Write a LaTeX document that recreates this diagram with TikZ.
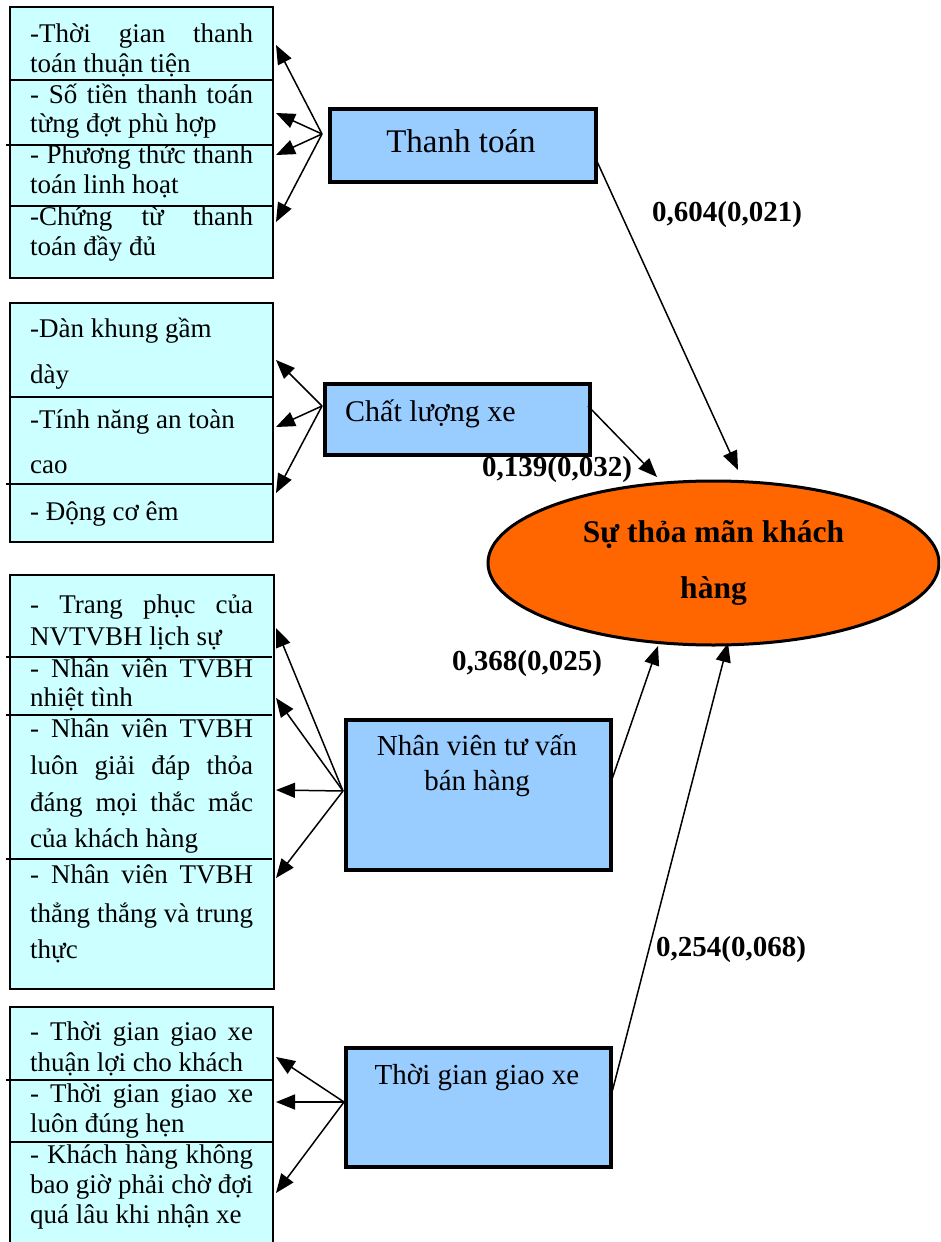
\documentclass[tikz,border=0pt]{standalone}
\usepackage{fontspec}
\setmainfont{Liberation Serif}
\usetikzlibrary{shapes.geometric,arrows.meta}
\definecolor{itemfill}{HTML}{CCFFFF}
\definecolor{factorfill}{HTML}{99CCFF}
\definecolor{targetfill}{HTML}{FF6600}
% a justified line of an item list: spaces stretch to the full column width
\newcommand\fullline[1]{\makebox[223pt][s]{#1}}

\begin{document}
\begin{tikzpicture}[x=1pt,y=-1pt,
  itembox/.style={draw=black, line width=2pt, fill=itemfill, rectangle,
    anchor=north west, inner sep=0pt},
  factor/.style={draw=black, line width=3.5pt, fill=factorfill, rectangle,
    anchor=north west, inner sep=0pt},
  itemtxt/.style={anchor=base west, inner sep=0pt, font=\fontsize{27}{31}\selectfont},
  factortxt/.style={inner sep=0pt, align=center, font=\fontsize{29}{35}\selectfont},
  coef/.style={inner sep=0pt, font=\bfseries\fontsize{29}{32}\selectfont},
  divider/.style={line width=1.5pt},
  fan/.style={line width=1.5pt, -{Triangle[length=19pt,width=15pt]}},
  effect/.style={line width=1.5pt, -{Triangle[length=19pt,width=15pt]}}]

\useasboundingbox (0,0) rectangle (940,1242);
\fill[white] (0,0) rectangle (940,1242);
\clip (0,0) rectangle (940,1242);

% ---------- item boxes ----------
\node[itembox, minimum width=263pt, minimum height=271pt] (items1) at (9,6) {};
\node[itembox, minimum width=263pt, minimum height=239pt] (items2) at (9,302) {};
\node[itembox, minimum width=264pt, minimum height=414pt] (items3) at (9,574) {};
\node[itembox, minimum width=263pt, minimum height=260pt] (items4) at (9,1006) {};

\draw[divider] (9,80) -- (272,80);
\draw[divider] (6,145) -- (272,145);
\draw[divider] (9,206) -- (272,206);
\draw[divider] (9,397) -- (272,397);
\draw[divider] (6,484) -- (272,484);
\draw[divider] (6,657) -- (272,657);
\draw[divider] (6,715) -- (272,715);
\draw[divider] (6,859) -- (272,859);
\draw[divider] (6,1080) -- (272,1080);
\draw[divider] (9,1142) -- (272,1142);

% Thanh toán
\node[itemtxt] (a1) at (30,42) {\fullline{-Thời gian thanh}};
\node[itemtxt] (a2) at (30,72) {toán thuận tiện};
\node[itemtxt] (a3) at (30,103) {\fullline{- Số tiền thanh toán}};
\node[itemtxt] (a4) at (30,132) {từng đợt phù hợp};
\node[itemtxt] (a5) at (30,163) {\fullline{- Phương thức thanh}};
\node[itemtxt] (a6) at (30,193) {toán linh hoạt};
\node[itemtxt] (a7) at (30,225) {\fullline{-Chứng từ thanh}};
\node[itemtxt] (a8) at (30,255) {toán đầy đủ};

% Chất lượng xe
\node[itemtxt] (b1) at (30,337) {-Dàn khung gầm};
\node[itemtxt] (b2) at (30,383) {dày};
\node[itemtxt] (b3) at (30,428) {-Tính năng an toàn};
\node[itemtxt] (b4) at (30,473) {cao};
\node[itemtxt] (b5) at (30,520) {- Động cơ êm};

% Nhân viên tư vấn bán hàng
\node[itemtxt] (c1) at (30,613) {\fullline{- Trang phục của}};
\node[itemtxt] (c2) at (30,645) {NVTVBH lịch sự};
\node[itemtxt] (c3) at (30,677) {\fullline{- Nhân viên TVBH}};
\node[itemtxt] (c4) at (30,706) {nhiệt tình};
\node[itemtxt] (c5) at (30,737) {\fullline{- Nhân viên TVBH}};
\node[itemtxt] (c6) at (30,774) {\fullline{luôn giải đáp thỏa}};
\node[itemtxt] (c7) at (30,811) {\fullline{đáng mọi thắc mắc}};
\node[itemtxt] (c8) at (30,847) {của khách hàng};
\node[itemtxt] (c9) at (30,883) {\fullline{- Nhân viên TVBH}};
\node[itemtxt] (c10) at (30,922) {\fullline{thẳng thắng và trung}};
\node[itemtxt] (c11) at (30,958) {thực};

% Thời gian giao xe
\node[itemtxt] (d1) at (30,1040) {\fullline{- Thời gian giao xe}};
\node[itemtxt] (d2) at (30,1071) {thuận lợi cho khách};
\node[itemtxt] (d3) at (30,1102) {\fullline{- Thời gian giao xe}};
\node[itemtxt] (d4) at (30,1132) {luôn đúng hẹn};
\node[itemtxt] (d5) at (30,1163) {\fullline{- Khách hàng không}};
\node[itemtxt] (d6) at (30,1193) {\fullline{bao giờ phải chờ đợi}};
\node[itemtxt] (d7) at (30,1223) {quá lâu khi nhận xe};

% ---------- factor boxes ----------
\node[factor, minimum width=266pt, minimum height=73pt] (tt) at (328,107) {};
\node[factortxt, font=\fontsize{33}{38}\selectfont] (ttt) at (461,141) {Thanh toán};

\node[factor, minimum width=265pt, minimum height=71pt] (cl) at (323,382) {};
\node[factortxt, anchor=west, font=\fontsize{30}{35}\selectfont] (clt) at (345,414) {Chất lượng xe};

\node[factor, minimum width=265pt, minimum height=150pt] (nv) at (344,718) {};
\node[factortxt] (nvt) at (477,766) {Nhân viên tư vấn\\bán hàng};

\node[factor, minimum width=265pt, minimum height=119pt] (tg) at (344,1046) {};
\node[factortxt] (tgt) at (477,1078) {Thời gian giao xe};

% ---------- outcome ----------
\node[ellipse, draw=black, line width=3pt, fill=targetfill, minimum width=451pt,
  minimum height=164pt, inner sep=0pt, align=center,
  font=\bfseries\fontsize{31.5}{56}\selectfont] (sat) at (713.5,563)
  {Sự thỏa mãn khách\\hàng};

% ---------- fans from factors to their items ----------
\coordinate (f1) at (322,134);
\coordinate (p11) at (276,45);
\coordinate (p12) at (276,113);
\coordinate (p13) at (276,155);
\coordinate (p14) at (276,222);
\foreach \p in {p11,p12,p13,p14} \draw[fan] (f1) -- (\p);

\coordinate (f2) at (322,406);
\coordinate (p21) at (276,360);
\coordinate (p22) at (276,427);
\coordinate (p23) at (276,493);
\foreach \p in {p21,p22,p23} \draw[fan] (f2) -- (\p);

\coordinate (f3) at (343,791);
\coordinate (p31) at (276,628);
\coordinate (p32) at (276,698);
\coordinate (p33) at (276,790);
\coordinate (p34) at (276,878);
\foreach \p in {p31,p32,p33,p34} \draw[fan] (f3) -- (\p);

\coordinate (f4) at (344,1102);
\coordinate (p41) at (276,1057);
\coordinate (p42) at (276,1102);
\coordinate (p43) at (276,1193);
\foreach \p in {p41,p42,p43} \draw[fan] (f4) -- (\p);

% ---------- effects on satisfaction ----------
\coordinate (ttout) at (595,157);
\coordinate (clout) at (588,406);
\coordinate (nvout) at (610,785);
\coordinate (tgout) at (610,1100);
\coordinate (in1) at (738,470);
\coordinate (in2) at (657,477);
\coordinate (in3) at (658,646);
\coordinate (in4) at (728,643);
\draw[effect] (ttout) -- (in1);
\draw[effect] (clout) -- (in2);
\draw[effect] (nvout) -- (in3);
\draw[effect] (tgout) -- (in4);

\node[coef] (k1) at (727,215) {0,604(0,021)};
\node[coef] (k2) at (557,470) {0,139(0,032)};
\node[coef] (k3) at (527,664) {0,368(0,025)};
\node[coef] (k4) at (731,950) {0,254(0,068)};
\end{tikzpicture}
\end{document}
